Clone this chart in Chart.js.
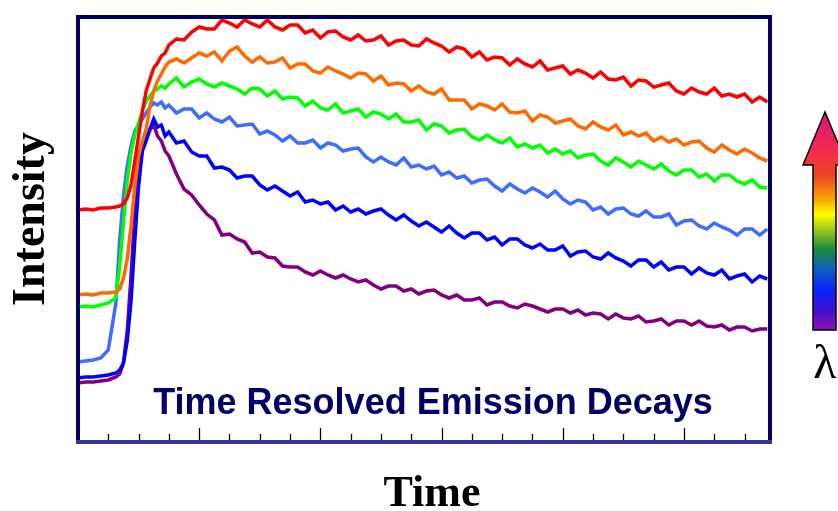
<!DOCTYPE html>
<html>
<head>
<meta charset="utf-8">
<script src="https://cdn.jsdelivr.net/npm/chart.js@4"></script>
<style>
  body { margin: 0; background: #fff; }
  #wrap { width: 838px; height: 511px; position: relative; }
</style>
</head>
<body>
<div id="wrap"><canvas id="decays"></canvas></div>
<script>
// time axis (arbitrary units), denser sampling through the rise
const times = [0,0.25,0.5,0.75,1,1.25,
  1.375,1.5,1.625,1.75,1.875,2,2.125,2.25,2.375,2.5,2.625,2.75,2.875,3,
  3.25,3.5,3.75,4,4.25,4.5,4.75,5,5.25,5.5,5.75,6,6.25,6.5,6.75,7,7.25,7.5,7.75,8,
  8.25,8.5,8.75,9,9.25,9.5,9.75,10,10.25,10.5,10.75,11,11.25,11.5,11.75,12,12.25,12.5,12.75,13,
  13.25,13.5,13.75,14,14.25,14.5,14.75,15,15.25,15.5,15.75,16,16.25,16.5,16.75,17,17.25,17.5,17.75,18,
  18.25,18.5,18.75,19,19.25,19.5,19.75,20,20.25,20.5,20.75,21,21.25,21.5,21.75,22,22.25,22.5,22.75];

// intensity (arbitrary units)
const red = [231,232,231,233,233,234,
  235,237,243,256,280,305,330,350,362,373,378,385,388,396,
  402,401,409,414,412,412,421,418,414,421,417,414,421,414,411,416,416,408,411,403,
  409,410,404,401,406,400,401,405,396,400,401,396,395,402,398,395,389,394,392,384,
  389,381,384,383,376,382,377,374,380,371,373,375,367,371,368,363,369,362,361,364,
  355,361,360,354,356,358,350,347,353,349,347,353,345,347,344,347,339,344,339];
const orange = [146,147,146,148,148,149,
  152,163,182,215,255,285,300,312,335,350,360,367,374,379,
  382,378,383,388,385,389,380,390,394,385,379,384,378,379,383,373,377,377,370,368,
  374,370,367,363,368,367,360,365,356,358,357,350,355,349,347,352,341,341,341,332,
  337,335,331,337,329,328,330,320,326,324,318,320,322,315,312,319,314,311,316,306,
  309,305,308,300,304,299,302,296,299,300,293,289,296,291,287,292,288,283,280];
const green = [134,135,134,136,138,143,
  175,218,260,288,306,318,330,340,345,350,352,355,353,357,
  363,354,359,362,357,354,358,355,352,347,353,352,345,350,342,344,343,335,340,333,
  331,337,328,330,332,324,329,327,322,327,319,319,321,311,317,315,308,311,312,304,
  301,306,301,298,303,294,297,293,296,288,292,287,290,283,286,287,280,276,283,279,
  274,280,276,272,277,270,266,271,271,264,267,260,266,266,260,257,261,254,253];
const lightBlue = [79,80,81,83,91,138,
  200,245,275,295,310,316,322,328,334,338,336,339,333,336,
  328,332,332,323,328,322,319,324,315,316,317,307,310,306,300,305,298,298,301,293,
  298,296,290,292,293,284,279,284,279,276,283,274,276,272,275,266,269,263,265,258,
  261,262,255,250,257,252,248,253,249,244,250,242,237,241,239,231,234,227,232,233,
  227,225,230,224,224,227,216,220,221,215,212,218,214,211,206,212,212,206,212];
const blue = [63,64,64,65,66,68,
  71,78,100,140,200,255,290,300,312,322,314,316,305,309,
  298,300,289,285,285,273,274,271,263,265,265,256,251,255,250,245,249,239,241,237,
  239,231,235,229,232,227,230,232,226,221,226,220,215,219,214,209,215,208,203,208,
  208,201,204,196,202,202,196,193,197,191,191,195,185,189,190,184,182,188,183,180,
  175,181,181,174,179,171,174,174,167,173,168,166,171,162,165,167,159,165,162];
const purple = [58,59,59,60,61,64,
  67,78,110,165,228,272,292,302,311,316,305,300,290,285,
  267,252,246,236,227,221,206,207,202,199,188,189,184,183,175,174,174,169,166,170,
  166,163,166,162,159,161,156,152,155,155,150,152,147,150,151,146,143,146,141,141,
  143,136,139,139,135,133,137,135,132,129,132,132,128,131,126,128,127,122,127,123,
  122,125,119,120,122,116,120,120,116,120,115,114,116,111,114,114,110,112,112];

const minorTicks = [1,2,3,5,6,7,9,10,11,13,14,15,17,18,19,21,22];
const majorTicks = [4,8,12,16,20];

const series = [
  { name: "red", values: red, color: "#ff0000" },
  { name: "orange", values: orange, color: "#ff6a00" },
  { name: "green", values: green, color: "#00ff00" },
  { name: "lightBlue", values: lightBlue, color: "#3d6cff" },
  { name: "blue", values: blue, color: "#0000ff" },
  { name: "purple", values: purple, color: "#800080" }
];

const decor = {
  id: "decor",
  beforeDraw(chart) {
    const ctx = chart.ctx;
    ctx.save();
    ctx.fillStyle = "#fff";
    ctx.fillRect(0, 0, chart.width, chart.height);
    ctx.restore();
  },
  afterDatasetsDraw(chart) {
    const ctx = chart.ctx;
    const a = chart.chartArea;
    const x = chart.scales.x;
    ctx.save();

    // ticks point up from the bottom edge
    ctx.strokeStyle = "#000";
    ctx.lineWidth = 1.3;
    minorTicks.forEach(v => {
      const px = Math.round(x.getPixelForValue(v)) + 0.5;
      ctx.beginPath(); ctx.moveTo(px, a.bottom); ctx.lineTo(px, a.bottom - 7); ctx.stroke();
    });
    majorTicks.forEach(v => {
      const px = Math.round(x.getPixelForValue(v)) + 0.5;
      ctx.beginPath(); ctx.moveTo(px, a.bottom); ctx.lineTo(px, a.bottom - 13); ctx.stroke();
    });

    // frame
    ctx.lineCap = "square";
    ctx.strokeStyle = "#000060";
    ctx.lineWidth = 4;
    ctx.beginPath();
    ctx.moveTo(a.left, a.bottom);
    ctx.lineTo(a.left, a.top);
    ctx.lineTo(a.right, a.top);
    ctx.lineTo(a.right, a.bottom);
    ctx.stroke();
    ctx.strokeStyle = "#333399";
    ctx.beginPath();
    ctx.moveTo(a.left, a.bottom + 1);
    ctx.lineTo(a.right, a.bottom + 1);
    ctx.stroke();

    // in-plot caption
    ctx.fillStyle = "#000066";
    ctx.font = "bold 36px 'Liberation Sans', Arial, sans-serif";
    ctx.textAlign = "center";
    ctx.textBaseline = "alphabetic";
    ctx.fillText("Time Resolved Emission Decays", 433, 414);

    // axis titles
    ctx.fillStyle = "#000";
    ctx.font = "bold 44px 'Liberation Serif', 'Times New Roman', serif";
    ctx.fillText("Time", 432, 506);
    ctx.save();
    ctx.translate(44, 219);
    ctx.rotate(-Math.PI / 2);
    ctx.font = "bold 46px 'Liberation Serif', 'Times New Roman', serif";
    ctx.fillText("Intensity", 0, 0);
    ctx.restore();

    // wavelength arrow
    const g = ctx.createLinearGradient(0, 112, 0, 330);
    g.addColorStop(0, "#d6147e");
    g.addColorStop(0.17, "#f02a50");
    g.addColorStop(0.29, "#ee4422");
    g.addColorStop(0.4, "#f7a600");
    g.addColorStop(0.47, "#ffff00");
    g.addColorStop(0.55, "#90c020");
    g.addColorStop(0.63, "#1a8a40");
    g.addColorStop(0.72, "#1060c0");
    g.addColorStop(0.82, "#0a20ff");
    g.addColorStop(0.91, "#4010d0");
    g.addColorStop(1, "#9010b0");
    ctx.beginPath();
    ctx.moveTo(825, 112);
    ctx.lineTo(847, 165);
    ctx.lineTo(836, 165);
    ctx.lineTo(836, 330);
    ctx.lineTo(813, 330);
    ctx.lineTo(813, 165);
    ctx.lineTo(803, 165);
    ctx.closePath();
    ctx.fillStyle = g;
    ctx.fill();
    ctx.lineWidth = 1.5;
    ctx.lineCap = "butt";
    ctx.lineJoin = "miter";
    ctx.strokeStyle = "#000";
    ctx.stroke();

    ctx.fillStyle = "#000";
    ctx.font = "48px 'Liberation Serif', 'Times New Roman', serif";
    ctx.fillText("\u03bb", 825, 378);

    ctx.restore();
  }
};

new Chart(document.getElementById("decays"), {
  type: "line",
  data: {
    datasets: series.map(s => ({
      label: s.name,
      data: times.map((t, i) => ({ x: t, y: s.values[i] })),
      borderColor: s.color,
      backgroundColor: s.color,
      borderWidth: 3.5,
      pointRadius: 0,
      tension: 0,
      fill: false
    }))
  },
  options: {
    responsive: true,
    maintainAspectRatio: false,
    animation: false,
    layout: { padding: { left: 78, right: 68, top: 17, bottom: 70 } },
    plugins: { legend: { display: false }, tooltip: { enabled: false } },
    scales: {
      x: { type: "linear", min: 0, max: 22.84, display: false },
      y: { min: 0, max: 424, display: false }
    }
  },
  plugins: [decor]
});
</script>
</body>
</html>
